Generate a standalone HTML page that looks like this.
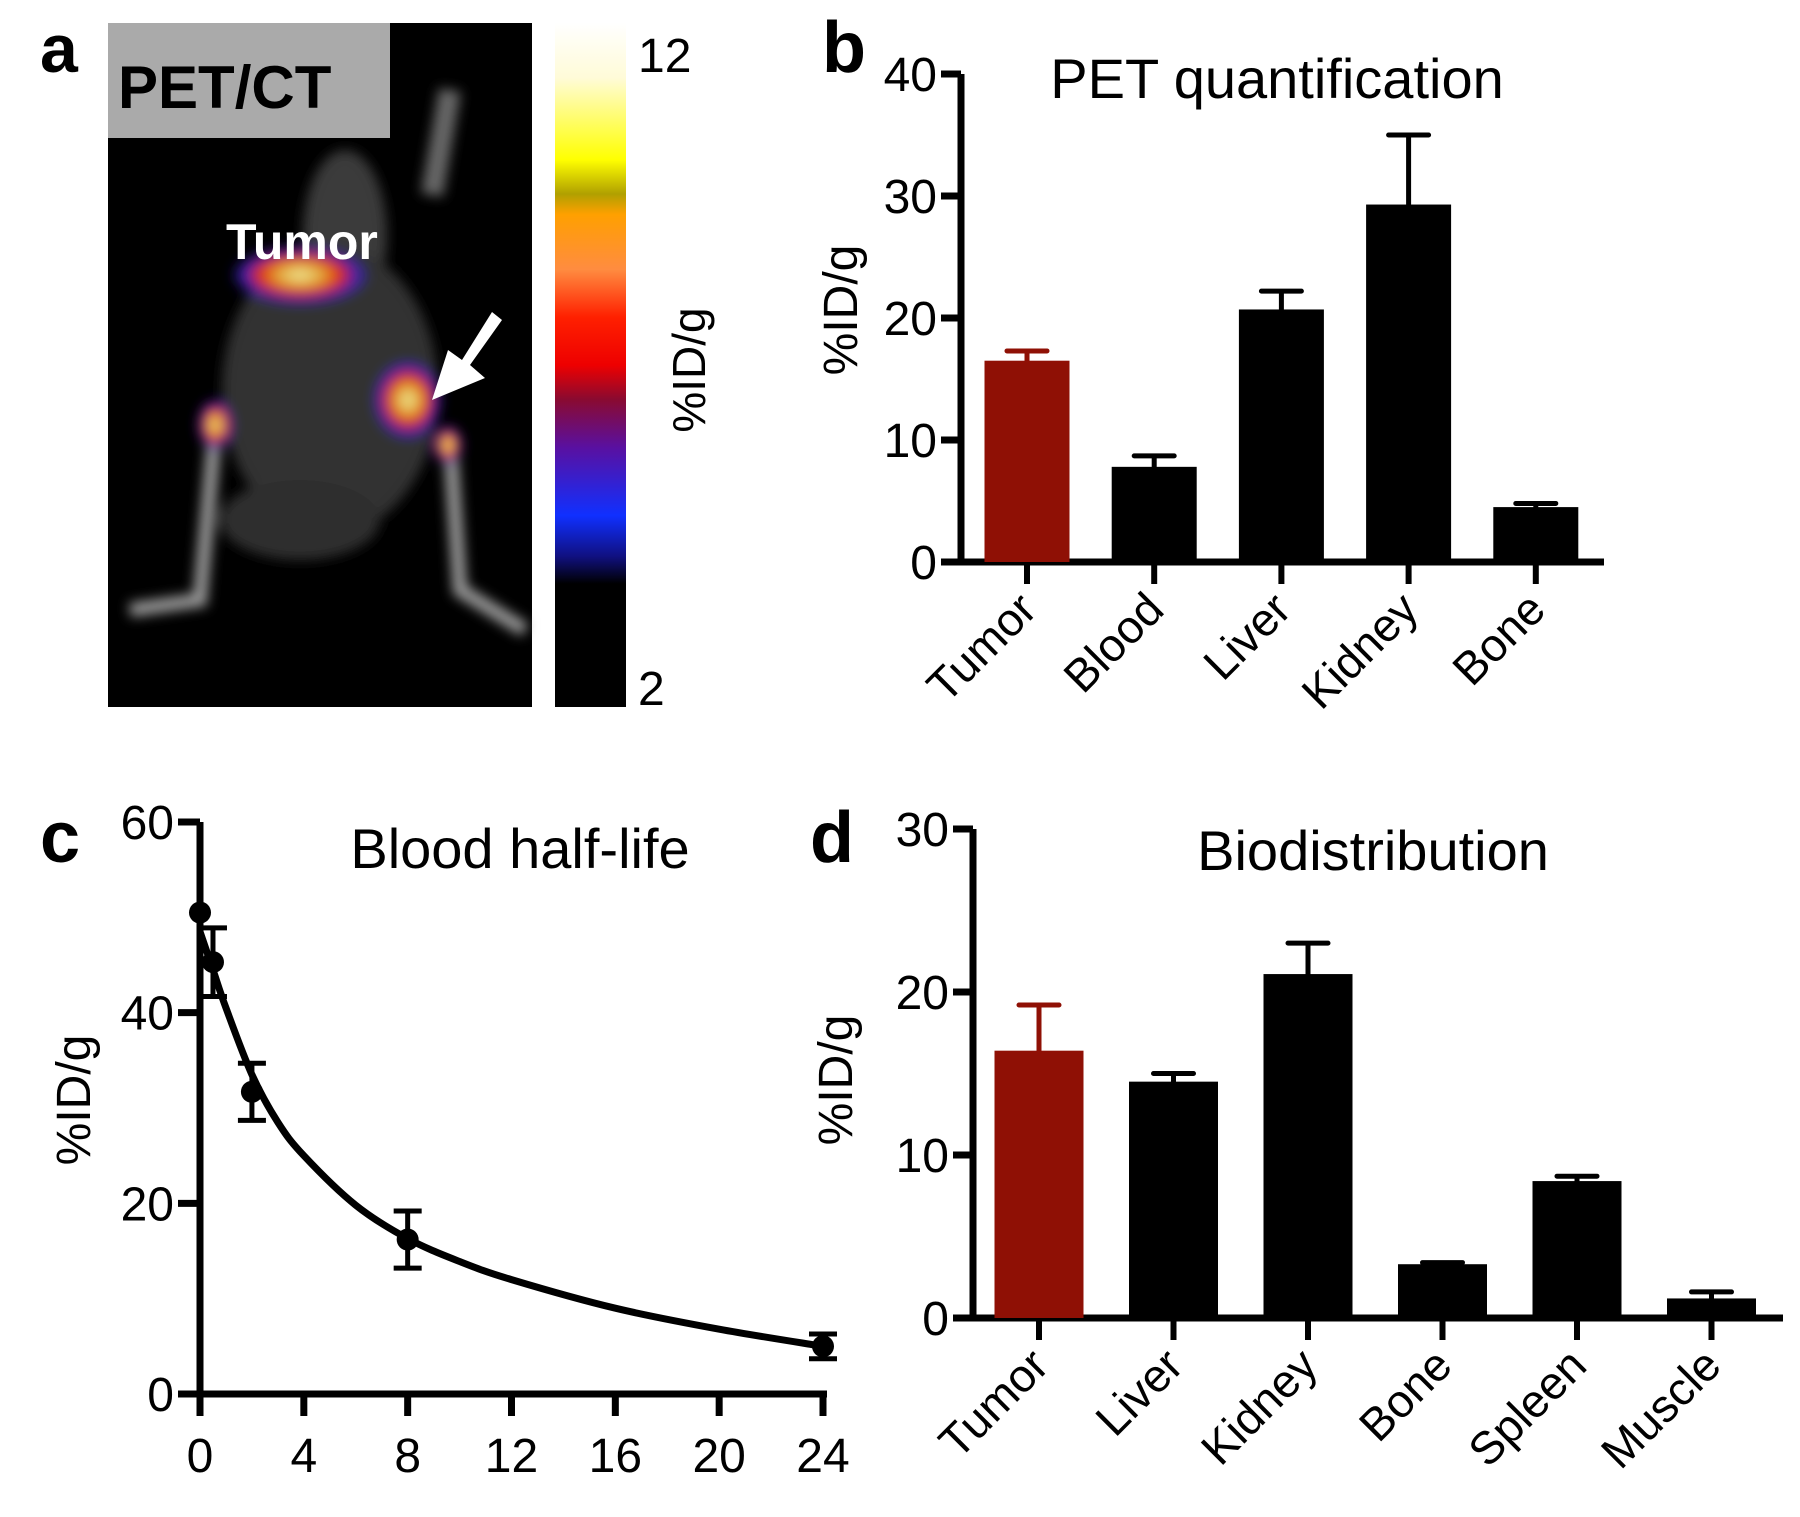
<!DOCTYPE html>
<html><head><meta charset="utf-8">
<style>
html,body{margin:0;padding:0;background:#fff;}
svg{display:block;}
text{font-family:"Liberation Sans Narrow","Liberation Sans",sans-serif;fill:#000;}
.lbl{font-family:"Liberation Sans",sans-serif;font-weight:bold;}
</style></head>
<body>
<svg id="fig" width="1800" height="1517" viewBox="0 0 1800 1517" xmlns="http://www.w3.org/2000/svg">
<defs>
<linearGradient id="cbar" x1="0" y1="0" x2="0" y2="1">
<stop offset="0" stop-color="#ffffff"/><stop offset="0.08" stop-color="#fffbd8"/>
<stop offset="0.2" stop-color="#ffff00"/><stop offset="0.25" stop-color="#b0a000"/>
<stop offset="0.28" stop-color="#ffa000"/><stop offset="0.36" stop-color="#ff8c40"/>
<stop offset="0.43" stop-color="#ff2000"/><stop offset="0.5" stop-color="#ee0000"/>
<stop offset="0.55" stop-color="#8a0a30"/><stop offset="0.62" stop-color="#5a10a0"/>
<stop offset="0.72" stop-color="#1030ff"/><stop offset="0.78" stop-color="#101080"/>
<stop offset="0.82" stop-color="#000"/><stop offset="1" stop-color="#000"/>
</linearGradient>
<radialGradient id="hot" cx="0.5" cy="0.5" r="0.5">
<stop offset="0" stop-color="#f0f0a0"/><stop offset="0.35" stop-color="#e0a030"/>
<stop offset="0.6" stop-color="#e02010"/><stop offset="0.8" stop-color="#4020c0"/><stop offset="1" stop-color="#2020a0" stop-opacity="0"/>
</radialGradient>
<filter id="blur"><feGaussianBlur stdDeviation="6"/></filter>
</defs>

<!-- Panel a -->
<g>
<text class="lbl" x="40" y="72" font-size="68">a</text>
<rect x="108" y="23" width="424" height="684" fill="#000"/>
<g filter="url(#blur)">
<ellipse cx="345" cy="235" rx="42" ry="85" fill="#3a3a3a"/>
<ellipse cx="330" cy="390" rx="108" ry="145" fill="#333"/>
<ellipse cx="300" cy="520" rx="80" ry="40" fill="#2e2e2e"/>
<path d="M215 430 L200 600 L130 610" stroke="#999" stroke-width="14" fill="none"/>
<path d="M450 440 L460 590 L525 630" stroke="#999" stroke-width="14" fill="none"/>
<path d="M432 195 L450 90" stroke="#666" stroke-width="22" fill="none"/>
<ellipse cx="300" cy="275" rx="70" ry="30" fill="url(#hot)"/>
<ellipse cx="408" cy="400" rx="35" ry="40" fill="url(#hot)"/>
<ellipse cx="215" cy="425" rx="18" ry="26" fill="url(#hot)"/>
<ellipse cx="448" cy="445" rx="15" ry="20" fill="url(#hot)"/>
</g>
<rect x="108" y="23" width="282" height="115" fill="#aaa"/>
<text x="118" y="108" font-size="60" font-weight="bold" font-family="Liberation Sans">PET/CT</text>
<text x="226" y="259" font-size="50" font-weight="bold" font-family="Liberation Sans" style="fill:#fff">Tumor</text>
<path d="M502 320 L470 365 L485 378 L432 400 L448 350 L462 360 L492 312 Z" fill="#fff"/>
<rect x="555" y="23" width="71" height="684" fill="url(#cbar)"/>
<text x="638" y="72" font-size="48">12</text>
<text x="638" y="705" font-size="48">2</text>
<text transform="translate(705,370) rotate(-90)" text-anchor="middle" font-size="46" font-family="Liberation Sans">%ID/g</text>
</g>

<g id="pb"></g>
<g id="pc"></g>
<g id="pd"></g>
</svg>
<script>
// Panel b data
const bCats = ["Tumor","Blood","Liver","Kidney","Bone"];
const bVals = [16.5, 7.8, 20.7, 29.3, 4.5];
const bErrs = [0.8, 0.9, 1.5, 5.7, 0.3];
const bTicks = [0,10,20,30,40];
// Panel c data
const cTimes = [0, 0.5, 2, 8, 24];
const cVals = [50.5, 45.3, 31.7, 16.2, 5.0];
const cErrs = [0, 3.6, 3.0, 3.0, 1.3];
const cFitT = [0, 0.5, 1, 2, 3, 4, 6, 8, 10, 12, 16, 20, 24];
const cFitV = [48.5, 44.5, 40.5, 33.5, 28.5, 25, 19.8, 16.3, 13.9, 12, 9.0, 6.8, 5.0];
const cXTicks = [0,4,8,12,16,20,24];
const cYTicks = [0,20,40,60];
// Panel d data
const dCats = ["Tumor","Liver","Kidney","Bone","Spleen","Muscle"];
const dVals = [16.4, 14.5, 21.1, 3.3, 8.4, 1.2];
const dErrs = [2.8, 0.5, 1.9, 0.1, 0.3, 0.4];
const dTicks = [0,10,20,30];

const NS="http://www.w3.org/2000/svg";
function mk(parent,tag,attrs,txt){const e=document.createElementNS(NS,tag);for(const k in attrs)e.setAttribute(k,attrs[k]);if(txt!==undefined)e.textContent=txt;parent.appendChild(e);return e;}

function barChart(g,o,cats,vals,errs,ticks){
  const y=v=>o.y0-(v-o.vmin)/(o.vmax-o.vmin)*(o.y0-o.y1);
  const letter=mk(g,'text',{x:o.lx,y:o.ly,'font-size':72,'class':'lbl'},o.letter);
  
  
  const t=mk(g,'text',{x:o.tx,y:o.ty,'font-size':56,'text-anchor':'middle'},o.title);
  
  
  const ax=mk(g,'path',{d:`M${o.ax} ${o.y1} V${o.y0+3} M${o.ax-18} ${o.y0} H${o.xend}`,stroke:'#000','stroke-width':7,fill:'none'});
  
  
  ticks.forEach(v=>{
    const tk=mk(g,'line',{x1:o.ax-20,x2:o.ax,y1:y(v),y2:y(v),stroke:'#000','stroke-width':7});
    
    
    const tl=mk(g,'text',{x:o.ax-24,y:y(v)+17,'font-size':48,'text-anchor':'end'},String(v));
    
    
  });
  const yt=mk(g,'text',{transform:`translate(${o.ytx},${o.yty}) rotate(-90)`,'font-size':48,'text-anchor':'middle','font-family':'Liberation Sans'},'%ID/g');
  
  
  cats.forEach((c,i)=>{
    const cx=o.c0+i*o.step, col=i===0?'#8f1005':'#000';
    const b=mk(g,'rect',{x:cx-o.bw/2,y:y(vals[i]),width:o.bw,height:o.y0-y(vals[i]),fill:col});
    
    
    const e=mk(g,'path',{d:`M${cx} ${y(vals[i])} V${y(vals[i]+errs[i])} M${cx-20} ${y(vals[i]+errs[i])} H${cx+20}`,stroke:col,'stroke-width':5,fill:'none','stroke-linecap':'round'});
    
    
    const tk=mk(g,'line',{x1:cx,x2:cx,y1:o.y0,y2:o.y0+22,stroke:'#000','stroke-width':6});
    
    
    const tl=mk(g,'text',{transform:`translate(${cx+12},${o.y0+50}) rotate(-45)`,'font-size':46,'text-anchor':'end','font-family':'Liberation Sans'},c);
    
    
  });
}

barChart(document.getElementById('pb'),
 {letter:'b',lx:822,ly:72,title:'PET quantification',tx:1277,ty:98,ax:961,y0:562,y1:74,vmin:0,vmax:40,xend:1604,c0:1027,step:127.2,bw:85,ytx:857,yty:310},
 bCats,bVals,bErrs,bTicks);
barChart(document.getElementById('pd'),
 {letter:'d',lx:810,ly:862,title:'Biodistribution',tx:1373,ty:870,ax:973,y0:1318,y1:829,vmin:0,vmax:30,xend:1783,c0:1039,step:134.5,bw:89,ytx:852,yty:1080},
 dCats,dVals,dErrs,dTicks);

// Panel c
(function(){
  const g=document.getElementById('pc');
  const X0=200,X1=823,Y0=1394,Y1=822;
  const x=t=>X0+t/24*(X1-X0), y=v=>Y0-v/60*(Y0-Y1);
  const l=mk(g,'text',{x:40,y:862,'font-size':72,'class':'lbl'},'c');
  
  
  const t=mk(g,'text',{x:520,y:868,'font-size':56,'text-anchor':'middle'},'Blood half-life');
  
  
  const ax=mk(g,'path',{d:`M${X0} ${Y1} V${Y0} H${X1+4}`,stroke:'#000','stroke-width':7,fill:'none'});
  
  
  cYTicks.forEach(v=>{
    const tk=mk(g,'line',{x1:X0-22,x2:X0,y1:y(v),y2:y(v),stroke:'#000','stroke-width':7});
    
    
    const tl=mk(g,'text',{x:X0-26,y:y(v)+17,'font-size':48,'text-anchor':'end'},String(v));
    
    
  });
  cXTicks.forEach(v=>{
    const tk=mk(g,'line',{x1:x(v),x2:x(v),y1:Y0,y2:Y0+22,stroke:'#000','stroke-width':7});
    
    
    const tl=mk(g,'text',{x:x(v),y:Y0+78,'font-size':48,'text-anchor':'middle'},String(v));
    
    
  });
  const yt=mk(g,'text',{transform:`translate(90,1100) rotate(-90)`,'font-size':48,'text-anchor':'middle','font-family':'Liberation Sans'},'%ID/g');
  
  
  const P=cFitT.map((tt,i)=>[x(tt),y(cFitV[i])]);
  let d=`M${P[0][0]} ${P[0][1]}`;
  for(let i=0;i<P.length-1;i++){
    const p0=P[Math.max(i-1,0)],p1=P[i],p2=P[i+1],p3=P[Math.min(i+2,P.length-1)];
    d+=` C${p1[0]+(p2[0]-p0[0])/6} ${p1[1]+(p2[1]-p0[1])/6} ${p2[0]-(p3[0]-p1[0])/6} ${p2[1]-(p3[1]-p1[1])/6} ${p2[0]} ${p2[1]}`;
  }
  const c=mk(g,'path',{d:d,stroke:'#000','stroke-width':7,fill:'none'});
  
  
  cTimes.forEach((tt,i)=>{
    if(cErrs[i]>0){
      const cx=x(tt),a=y(cVals[i]+cErrs[i]),b=y(cVals[i]-cErrs[i]);
      const e=mk(g,'path',{d:`M${cx} ${a} V${b} M${cx-14} ${a} H${cx+14} M${cx-14} ${b} H${cx+14}`,stroke:'#000','stroke-width':5,fill:'none'});
      
      
    }
    const p=mk(g,'circle',{cx:x(tt),cy:y(cVals[i]),r:11,fill:'#000'});
    
    
  });
})();
</script>
</body></html>
